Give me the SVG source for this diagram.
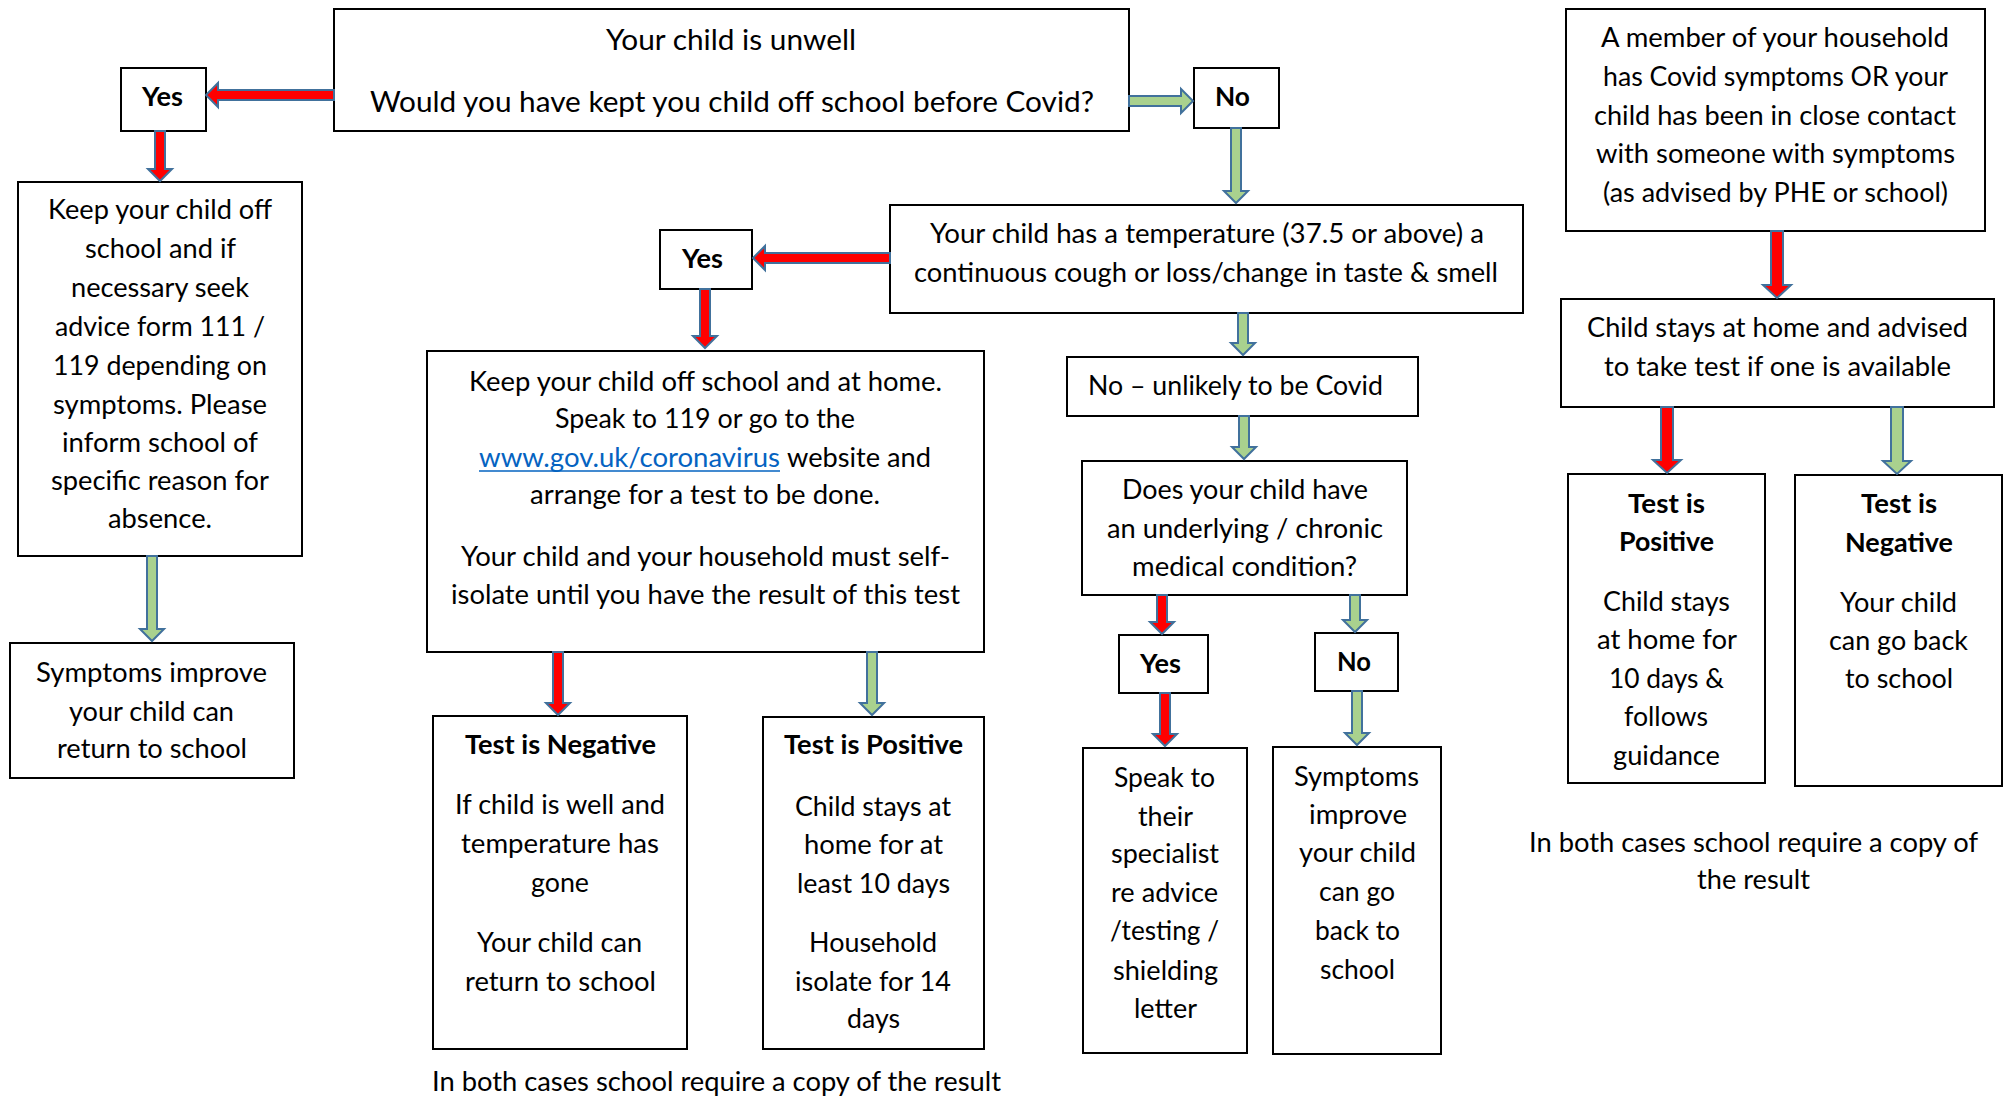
<svg xmlns="http://www.w3.org/2000/svg" width="2004" height="1097" viewBox="0 0 2004 1097">
<style>
.b{fill:#fff;stroke:#000;stroke-width:2}
text{font-family:Lato,"Liberation Sans",sans-serif;font-size:26px;fill:#000}
.w{font-size:27px}
.h{font-size:28px}
.bd{font-weight:bold}
.lk{fill:#0563C1}
.ar{fill:#FF0000;stroke:#41719C;stroke-width:2;stroke-linejoin:miter}
.ag{fill:#A9D18E;stroke:#41719C;stroke-width:2;stroke-linejoin:miter}
</style>
<rect width="2004" height="1097" fill="#fff"/>

<g id="start">
<rect class="b" x="334" y="9" width="795" height="122"/>
<text class="h" x="606" y="50" textLength="250" lengthAdjust="spacingAndGlyphs">Your child is unwell</text>
<text class="h" x="370" y="112" textLength="724" lengthAdjust="spacingAndGlyphs">Would you have kept you child off school before Covid?</text>
</g>
<g id="yes1">
<rect class="b" x="121" y="68" width="85" height="63"/>
<text class="bd" x="142" y="106" textLength="41" lengthAdjust="spacingAndGlyphs">Yes</text>
</g>
<g id="no1">
<rect class="b" x="1194" y="68" width="85" height="60"/>
<text class="bd" x="1215" y="106" textLength="35" lengthAdjust="spacingAndGlyphs">No</text>
</g>
<g id="temperature">
<rect class="b" x="890" y="205" width="633" height="108"/>
<text x="930" y="243" textLength="554" lengthAdjust="spacingAndGlyphs">Your child has a temperature (37.5 or above) a</text>
<text x="914" y="282" textLength="584" lengthAdjust="spacingAndGlyphs">continuous cough or loss/change in taste &amp; smell</text>
</g>
<g id="yes2">
<rect class="b" x="660" y="230" width="92" height="59"/>
<text class="bd" x="682" y="268" textLength="41" lengthAdjust="spacingAndGlyphs">Yes</text>
</g>
<g id="keep-off">
<rect class="b" x="18" y="182" width="284" height="374"/>
<text x="48" y="219" textLength="224" lengthAdjust="spacingAndGlyphs">Keep your child off</text>
<text x="85" y="258" textLength="151" lengthAdjust="spacingAndGlyphs">school and if</text>
<text x="71" y="297" textLength="178" lengthAdjust="spacingAndGlyphs">necessary seek</text>
<text x="55" y="336" textLength="210" lengthAdjust="spacingAndGlyphs">advice form 111 /</text>
<text x="53" y="375" textLength="214" lengthAdjust="spacingAndGlyphs">119 depending on</text>
<text x="53" y="414" textLength="214" lengthAdjust="spacingAndGlyphs">symptoms. Please</text>
<text x="62" y="452" textLength="196" lengthAdjust="spacingAndGlyphs">inform school of</text>
<text x="51" y="490" textLength="218" lengthAdjust="spacingAndGlyphs">specific reason for</text>
<text x="108" y="528" textLength="104" lengthAdjust="spacingAndGlyphs">absence.</text>
</g>
<g id="symptoms-left">
<rect class="b" x="10" y="643" width="284" height="135"/>
<text x="36" y="682" textLength="231" lengthAdjust="spacingAndGlyphs">Symptoms improve</text>
<text x="69" y="721" textLength="165" lengthAdjust="spacingAndGlyphs">your child can</text>
<text x="57" y="758" textLength="190" lengthAdjust="spacingAndGlyphs">return to school</text>
</g>
<g id="keep-home">
<rect class="b" x="427" y="351" width="557" height="301"/>
<text x="469" y="391" textLength="473" lengthAdjust="spacingAndGlyphs">Keep your child off school and at home.</text>
<text x="555" y="428" textLength="300" lengthAdjust="spacingAndGlyphs">Speak to 119 or go to the</text>
<text class="lk" x="479" y="467" textLength="301" lengthAdjust="spacingAndGlyphs">www.gov.uk/coronavirus</text>
<line x1="479" y1="471" x2="780" y2="471" stroke="#0563C1" stroke-width="1.5"/>
<text x="787" y="467" textLength="144" lengthAdjust="spacingAndGlyphs">website and</text>
<text x="530" y="504" textLength="350" lengthAdjust="spacingAndGlyphs">arrange for a test to be done.</text>
<text x="461" y="566" textLength="489" lengthAdjust="spacingAndGlyphs">Your child and your household must self-</text>
<text x="451" y="604" textLength="509" lengthAdjust="spacingAndGlyphs">isolate until you have the result of this test</text>
</g>
<g id="test-negative">
<rect class="b" x="433" y="716" width="254" height="333"/>
<text class="bd" x="465" y="754" textLength="191" lengthAdjust="spacingAndGlyphs">Test is Negative</text>
<text x="455" y="814" textLength="210" lengthAdjust="spacingAndGlyphs">If child is well and</text>
<text x="461" y="853" textLength="198" lengthAdjust="spacingAndGlyphs">temperature has</text>
<text x="531" y="892" textLength="58" lengthAdjust="spacingAndGlyphs">gone</text>
<text x="477" y="952" textLength="165" lengthAdjust="spacingAndGlyphs">Your child can</text>
<text x="465" y="991" textLength="191" lengthAdjust="spacingAndGlyphs">return to school</text>
</g>
<g id="test-positive">
<rect class="b" x="763" y="717" width="221" height="332"/>
<text class="bd" x="784" y="754" textLength="179" lengthAdjust="spacingAndGlyphs">Test is Positive</text>
<text x="795" y="816" textLength="156" lengthAdjust="spacingAndGlyphs">Child stays at</text>
<text x="804" y="854" textLength="139" lengthAdjust="spacingAndGlyphs">home for at</text>
<text x="797" y="893" textLength="153" lengthAdjust="spacingAndGlyphs">least 10 days</text>
<text x="809" y="952" textLength="128" lengthAdjust="spacingAndGlyphs">Household</text>
<text x="795" y="991" textLength="156" lengthAdjust="spacingAndGlyphs">isolate for 14</text>
<text x="847" y="1028" textLength="53" lengthAdjust="spacingAndGlyphs">days</text>
</g>
<g id="caption-middle">
<text x="432" y="1091" textLength="569" lengthAdjust="spacingAndGlyphs">In both cases school require a copy of the result</text>
</g>
<g id="unlikely">
<rect class="b" x="1067" y="357" width="351" height="59"/>
<text class="w" x="1088" y="395" textLength="295" lengthAdjust="spacingAndGlyphs">No – unlikely to be Covid</text>
</g>
<g id="chronic">
<rect class="b" x="1082" y="461" width="325" height="134"/>
<text class="w" x="1122" y="499" textLength="246" lengthAdjust="spacingAndGlyphs">Does your child have</text>
<text class="w" x="1107" y="538" textLength="276" lengthAdjust="spacingAndGlyphs">an underlying / chronic</text>
<text class="w" x="1132" y="576" textLength="225" lengthAdjust="spacingAndGlyphs">medical condition?</text>
</g>
<g id="yes3">
<rect class="b" x="1119" y="635" width="89" height="58"/>
<text class="bd" x="1140" y="673" textLength="41" lengthAdjust="spacingAndGlyphs">Yes</text>
</g>
<g id="no3">
<rect class="b" x="1315" y="633" width="83" height="58"/>
<text class="bd" x="1337" y="671" textLength="34" lengthAdjust="spacingAndGlyphs">No</text>
</g>
<g id="specialist">
<rect class="b" x="1083" y="748" width="164" height="305"/>
<text x="1114" y="787" textLength="101" lengthAdjust="spacingAndGlyphs">Speak to</text>
<text x="1138" y="826" textLength="55" lengthAdjust="spacingAndGlyphs">their</text>
<text x="1111" y="863" textLength="108" lengthAdjust="spacingAndGlyphs">specialist</text>
<text x="1111" y="902" textLength="107" lengthAdjust="spacingAndGlyphs">re advice</text>
<text x="1110" y="940" textLength="109" lengthAdjust="spacingAndGlyphs">/testing /</text>
<text x="1113" y="980" textLength="105" lengthAdjust="spacingAndGlyphs">shielding</text>
<text x="1134" y="1018" textLength="63" lengthAdjust="spacingAndGlyphs">letter</text>
</g>
<g id="symptoms-right">
<rect class="b" x="1273" y="747" width="168" height="307"/>
<text x="1294" y="786" textLength="125" lengthAdjust="spacingAndGlyphs">Symptoms</text>
<text x="1309" y="824" textLength="98" lengthAdjust="spacingAndGlyphs">improve</text>
<text x="1299" y="862" textLength="117" lengthAdjust="spacingAndGlyphs">your child</text>
<text x="1319" y="901" textLength="76" lengthAdjust="spacingAndGlyphs">can go</text>
<text x="1315" y="940" textLength="85" lengthAdjust="spacingAndGlyphs">back to</text>
<text x="1320" y="979" textLength="75" lengthAdjust="spacingAndGlyphs">school</text>
</g>
<g id="household">
<rect class="b" x="1566" y="9" width="419" height="222"/>
<text class="w" x="1601" y="47" textLength="348" lengthAdjust="spacingAndGlyphs">A member of your household</text>
<text class="w" x="1603" y="86" textLength="345" lengthAdjust="spacingAndGlyphs">has Covid symptoms OR your</text>
<text class="w" x="1594" y="125" textLength="362" lengthAdjust="spacingAndGlyphs">child has been in close contact</text>
<text class="w" x="1596" y="163" textLength="359" lengthAdjust="spacingAndGlyphs">with someone with symptoms</text>
<text class="w" x="1603" y="202" textLength="345" lengthAdjust="spacingAndGlyphs">(as advised by PHE or school)</text>
</g>
<g id="stays-home">
<rect class="b" x="1561" y="299" width="433" height="108"/>
<text class="w" x="1587" y="337" textLength="381" lengthAdjust="spacingAndGlyphs">Child stays at home and advised</text>
<text class="w" x="1604" y="376" textLength="347" lengthAdjust="spacingAndGlyphs">to take test if one is available</text>
</g>
<g id="right-positive">
<rect class="b" x="1568" y="474" width="197" height="309"/>
<text class="w bd" x="1628" y="513" textLength="77" lengthAdjust="spacingAndGlyphs">Test is</text>
<text class="w bd" x="1619" y="551" textLength="95" lengthAdjust="spacingAndGlyphs">Positive</text>
<text class="w" x="1603" y="611" textLength="127" lengthAdjust="spacingAndGlyphs">Child stays</text>
<text class="w" x="1597" y="649" textLength="140" lengthAdjust="spacingAndGlyphs">at home for</text>
<text class="w" x="1609" y="688" textLength="115" lengthAdjust="spacingAndGlyphs">10 days &amp;</text>
<text class="w" x="1624" y="726" textLength="84" lengthAdjust="spacingAndGlyphs">follows</text>
<text class="w" x="1613" y="765" textLength="107" lengthAdjust="spacingAndGlyphs">guidance</text>
</g>
<g id="right-negative">
<rect class="b" x="1795" y="475" width="207" height="311"/>
<text class="w bd" x="1861" y="513" textLength="76" lengthAdjust="spacingAndGlyphs">Test is</text>
<text class="w bd" x="1845" y="552" textLength="108" lengthAdjust="spacingAndGlyphs">Negative</text>
<text class="w" x="1840" y="612" textLength="117" lengthAdjust="spacingAndGlyphs">Your child</text>
<text class="w" x="1829" y="650" textLength="139" lengthAdjust="spacingAndGlyphs">can go back</text>
<text class="w" x="1845" y="688" textLength="108" lengthAdjust="spacingAndGlyphs">to school</text>
</g>
<g id="caption-right">
<text class="w" x="1529" y="852" textLength="449" lengthAdjust="spacingAndGlyphs">In both cases school require a copy of</text>
<text class="w" x="1697" y="889" textLength="113" lengthAdjust="spacingAndGlyphs">the result</text>
</g>

<g id="connectors">
<path class="ar" d="M334,90 V100 H218 V107 L206,95 L218,83 V90 Z"/>
<path class="ag" d="M1129,96 V106 H1181 V113 L1193,101 L1181,89 V96 Z"/>
<path class="ar" d="M155,131 H165 V169 H172 L160,181 L148,169 H155 Z"/>
<path class="ag" d="M1231,128 H1241 V191 H1248 L1236,203 L1224,191 H1231 Z"/>
<path class="ar" d="M890,253 V263 H765 V270 L753,258 L765,246 V253 Z"/>
<path class="ar" d="M700,289 H710 V336 H717 L705,348 L693,336 H700 Z"/>
<path class="ag" d="M147,556 H157 V629 H164 L152,641 L140,629 H147 Z"/>
<path class="ar" d="M553,652 H563 V703 H570 L558,715 L546,703 H553 Z"/>
<path class="ag" d="M867,652 H877 V703 H884 L872,715 L860,703 H867 Z"/>
<path class="ag" d="M1238,313 H1248 V343 H1255 L1243,355 L1231,343 H1238 Z"/>
<path class="ag" d="M1239,416 H1249 V447 H1256 L1244,459 L1232,447 H1239 Z"/>
<path class="ar" d="M1157,595 H1167 V622 H1174 L1162,634 L1150,622 H1157 Z"/>
<path class="ag" d="M1350,595 H1360 V620 H1367 L1355,632 L1343,620 H1350 Z"/>
<path class="ar" d="M1160,693 H1170 V734 H1177 L1165,746 L1153,734 H1160 Z"/>
<path class="ag" d="M1352,691 H1362 V733 H1369 L1357,745 L1345,733 H1352 Z"/>
<path class="ar" d="M1771,231 H1783 V285 H1791 L1777,298 L1763,285 H1771 Z"/>
<path class="ar" d="M1661,407 H1673 V460 H1681 L1667,473 L1653,460 H1661 Z"/>
<path class="ag" d="M1891,407 H1903 V461 H1911 L1897,474 L1883,461 H1891 Z"/>
</g>
</svg>
